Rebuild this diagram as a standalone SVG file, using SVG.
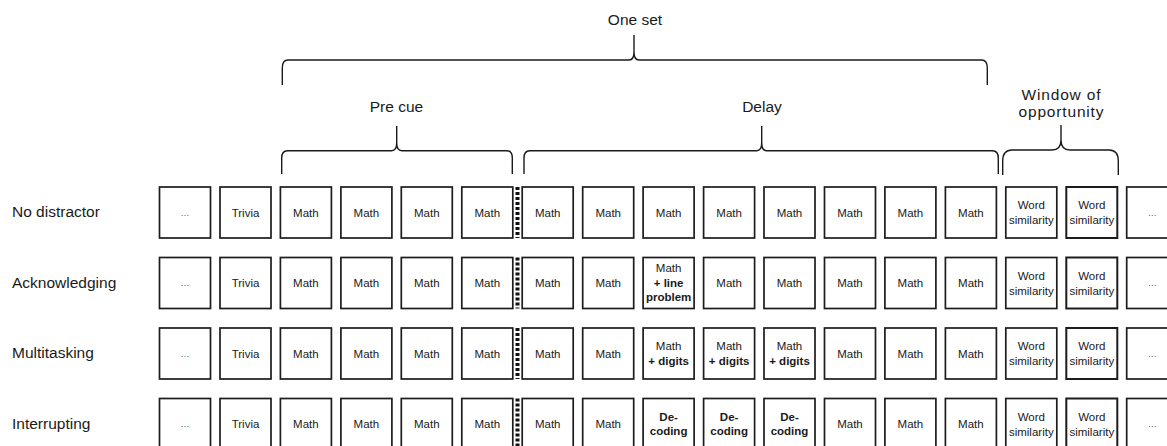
<svg xmlns="http://www.w3.org/2000/svg" width="1167" height="446" viewBox="0 0 1167 446">
<style>
.box{fill:#fff;stroke:#1c1c1c;stroke-width:1.7}
.box2{fill:#fff;stroke:#1c1c1c;stroke-width:2}
.t{font-family:"Liberation Sans",Arial,sans-serif;font-size:11.5px;fill:#1a1a1a;text-anchor:middle}
.b{font-family:"Liberation Sans",Arial,sans-serif;font-size:11.5px;font-weight:bold;fill:#1a1a1a;text-anchor:middle}
.e{font-family:"Liberation Sans",Arial,sans-serif;font-size:9px;fill:#555;text-anchor:middle}
.lbl{font-family:"Liberation Sans",Arial,sans-serif;font-size:15.5px;fill:#1a1a1a}
.hd{font-family:"Liberation Sans",Arial,sans-serif;font-size:15.5px;fill:#1a1a1a;text-anchor:middle}
.br{fill:none;stroke:#1a1a1a;stroke-width:1.4}
.dot{stroke:#111;stroke-width:4;stroke-dasharray:3 2}
</style>
<rect width="1167" height="446" fill="#fff"/>
<g id="headings">
<text class="hd" x="635" y="25">One set</text>
<text class="hd" x="396.5" y="112.3">Pre cue</text>
<text class="hd" x="762" y="112.3">Delay</text>
<text class="hd" x="1061" y="99.5" font-size="16.5" textLength="79" lengthAdjust="spacing">Window of</text>
<text class="hd" x="1061" y="117.3" font-size="16.5" textLength="85" lengthAdjust="spacing">opportunity</text>
</g>
<g id="brackets">
<path class="br" d="M282.3,85 V68 Q282.3,60 288,60 H629 Q634,60 634,52 V35 V52 Q634,60 639,60 H981.5 Q987.3,60 987.3,68 V85"/>
<path class="br" d="M281.7,174 V158 Q281.7,150.7 287.5,150.7 H391.7 Q396.7,150.7 396.7,143 V126 V143 Q396.7,150.7 401.7,150.7 H506.5 Q512.3,150.7 512.3,158 V174"/>
<path class="br" d="M524,174 V158 Q524,150.7 529.8,150.7 H756.7 Q761.7,150.7 761.7,143 V126 V143 Q761.7,150.7 766.7,150.7 H992.5 Q998.3,150.7 998.3,158 V174"/>
<path class="br" d="M1002.7,175 V161 Q1002.7,150 1012,150 H1052 Q1061,150 1061,140 V125 V140 Q1061,150 1070,150 H1109 Q1118.3,150 1118.3,161 V175"/>
</g>
<g id="row-labels">
<text class="lbl" x="12" y="217">No distractor</text>
<text class="lbl" x="12" y="287.5">Acknowledging</text>
<text class="lbl" x="12" y="358">Multitasking</text>
<text class="lbl" x="12" y="428.5">Interrupting</text>
</g>
<g id="separators">
<line class="dot" x1="517.5" y1="187" x2="517.5" y2="238"/>
<line class="dot" x1="517.5" y1="257.5" x2="517.5" y2="308.5"/>
<line class="dot" x1="517.5" y1="328" x2="517.5" y2="379"/>
<line class="dot" x1="517.5" y1="398.5" x2="517.5" y2="449.5"/>
</g>
<g id="connectors"></g>

<!-- Row 1 -->
<g id="r1c0"><rect class="box" x="159.5" y="187" width="51" height="51"/><text class="e" x="185" y="215.5">…</text></g>
<g id="r1c1"><rect class="box" x="220" y="187" width="51" height="51"/><text class="t" x="245.5" y="216.5">Trivia</text></g>
<g id="r1c2"><rect class="box" x="280.4" y="187" width="51" height="51"/><text class="t" x="305.9" y="216.5">Math</text></g>
<g id="r1c3"><rect class="box" x="340.9" y="187" width="51" height="51"/><text class="t" x="366.4" y="216.5">Math</text></g>
<g id="r1c4"><rect class="box" x="401.3" y="187" width="51" height="51"/><text class="t" x="426.8" y="216.5">Math</text></g>
<g id="r1c5"><rect class="box" x="461.8" y="187" width="51" height="51"/><text class="t" x="487.3" y="216.5">Math</text></g>
<g id="r1c6"><rect class="box" x="522.2" y="187" width="51" height="51"/><text class="t" x="547.7" y="216.5">Math</text></g>
<g id="r1c7"><rect class="box" x="582.7" y="187" width="51" height="51"/><text class="t" x="608.2" y="216.5">Math</text></g>
<g id="r1c8"><rect class="box" x="643.1" y="187" width="51" height="51"/><text class="t" x="668.6" y="216.5">Math</text></g>
<g id="r1c9"><rect class="box" x="703.6" y="187" width="51" height="51"/><text class="t" x="729.1" y="216.5">Math</text></g>
<g id="r1c10"><rect class="box" x="764" y="187" width="51" height="51"/><text class="t" x="789.5" y="216.5">Math</text></g>
<g id="r1c11"><rect class="box" x="824.5" y="187" width="51" height="51"/><text class="t" x="850" y="216.5">Math</text></g>
<g id="r1c12"><rect class="box" x="884.9" y="187" width="51" height="51"/><text class="t" x="910.4" y="216.5">Math</text></g>
<g id="r1c13"><rect class="box" x="945.4" y="187" width="51" height="51"/><text class="t" x="970.9" y="216.5">Math</text></g>
<g id="r1c14"><rect class="box" x="1005.8" y="187" width="51" height="51"/><text class="t" x="1031.3" y="209">Word</text><text class="t" x="1031.3" y="224">similarity</text></g>
<g id="r1c15"><rect class="box2" x="1066.3" y="187" width="51" height="51"/><text class="t" x="1091.8" y="209">Word</text><text class="t" x="1091.8" y="224">similarity</text></g>
<g id="r1c16"><rect class="box" x="1126.7" y="187" width="51" height="51"/><text class="e" x="1152.2" y="215.5">…</text></g>

<!-- Row 2 -->
<g id="r2c0"><rect class="box" x="159.5" y="257.5" width="51" height="51"/><text class="e" x="185" y="286">…</text></g>
<g id="r2c1"><rect class="box" x="220" y="257.5" width="51" height="51"/><text class="t" x="245.5" y="287">Trivia</text></g>
<g id="r2c2"><rect class="box" x="280.4" y="257.5" width="51" height="51"/><text class="t" x="305.9" y="287">Math</text></g>
<g id="r2c3"><rect class="box" x="340.9" y="257.5" width="51" height="51"/><text class="t" x="366.4" y="287">Math</text></g>
<g id="r2c4"><rect class="box" x="401.3" y="257.5" width="51" height="51"/><text class="t" x="426.8" y="287">Math</text></g>
<g id="r2c5"><rect class="box" x="461.8" y="257.5" width="51" height="51"/><text class="t" x="487.3" y="287">Math</text></g>
<g id="r2c6"><rect class="box" x="522.2" y="257.5" width="51" height="51"/><text class="t" x="547.7" y="287">Math</text></g>
<g id="r2c7"><rect class="box" x="582.7" y="257.5" width="51" height="51"/><text class="t" x="608.2" y="287">Math</text></g>
<g id="r2c8"><rect class="box" x="643.1" y="257.5" width="51" height="51"/><text class="t" x="668.6" y="272">Math</text><text class="b" x="668.6" y="286.5">+ line</text><text class="b" x="668.6" y="301">problem</text></g>
<g id="r2c9"><rect class="box" x="703.6" y="257.5" width="51" height="51"/><text class="t" x="729.1" y="287">Math</text></g>
<g id="r2c10"><rect class="box" x="764" y="257.5" width="51" height="51"/><text class="t" x="789.5" y="287">Math</text></g>
<g id="r2c11"><rect class="box" x="824.5" y="257.5" width="51" height="51"/><text class="t" x="850" y="287">Math</text></g>
<g id="r2c12"><rect class="box" x="884.9" y="257.5" width="51" height="51"/><text class="t" x="910.4" y="287">Math</text></g>
<g id="r2c13"><rect class="box" x="945.4" y="257.5" width="51" height="51"/><text class="t" x="970.9" y="287">Math</text></g>
<g id="r2c14"><rect class="box" x="1005.8" y="257.5" width="51" height="51"/><text class="t" x="1031.3" y="279.5">Word</text><text class="t" x="1031.3" y="294.5">similarity</text></g>
<g id="r2c15"><rect class="box2" x="1066.3" y="257.5" width="51" height="51"/><text class="t" x="1091.8" y="279.5">Word</text><text class="t" x="1091.8" y="294.5">similarity</text></g>
<g id="r2c16"><rect class="box" x="1126.7" y="257.5" width="51" height="51"/><text class="e" x="1152.2" y="286">…</text></g>

<!-- Row 3 -->
<g id="r3c0"><rect class="box" x="159.5" y="328" width="51" height="51"/><text class="e" x="185" y="356.5">…</text></g>
<g id="r3c1"><rect class="box" x="220" y="328" width="51" height="51"/><text class="t" x="245.5" y="357.5">Trivia</text></g>
<g id="r3c2"><rect class="box" x="280.4" y="328" width="51" height="51"/><text class="t" x="305.9" y="357.5">Math</text></g>
<g id="r3c3"><rect class="box" x="340.9" y="328" width="51" height="51"/><text class="t" x="366.4" y="357.5">Math</text></g>
<g id="r3c4"><rect class="box" x="401.3" y="328" width="51" height="51"/><text class="t" x="426.8" y="357.5">Math</text></g>
<g id="r3c5"><rect class="box" x="461.8" y="328" width="51" height="51"/><text class="t" x="487.3" y="357.5">Math</text></g>
<g id="r3c6"><rect class="box" x="522.2" y="328" width="51" height="51"/><text class="t" x="547.7" y="357.5">Math</text></g>
<g id="r3c7"><rect class="box" x="582.7" y="328" width="51" height="51"/><text class="t" x="608.2" y="357.5">Math</text></g>
<g id="r3c8"><rect class="box" x="643.1" y="328" width="51" height="51"/><text class="t" x="668.6" y="349.5">Math</text><text class="b" x="668.6" y="364.5">+ digits</text></g>
<g id="r3c9"><rect class="box" x="703.6" y="328" width="51" height="51"/><text class="t" x="729.1" y="349.5">Math</text><text class="b" x="729.1" y="364.5">+ digits</text></g>
<g id="r3c10"><rect class="box" x="764" y="328" width="51" height="51"/><text class="t" x="789.5" y="349.5">Math</text><text class="b" x="789.5" y="364.5">+ digits</text></g>
<g id="r3c11"><rect class="box" x="824.5" y="328" width="51" height="51"/><text class="t" x="850" y="357.5">Math</text></g>
<g id="r3c12"><rect class="box" x="884.9" y="328" width="51" height="51"/><text class="t" x="910.4" y="357.5">Math</text></g>
<g id="r3c13"><rect class="box" x="945.4" y="328" width="51" height="51"/><text class="t" x="970.9" y="357.5">Math</text></g>
<g id="r3c14"><rect class="box" x="1005.8" y="328" width="51" height="51"/><text class="t" x="1031.3" y="350">Word</text><text class="t" x="1031.3" y="365">similarity</text></g>
<g id="r3c15"><rect class="box2" x="1066.3" y="328" width="51" height="51"/><text class="t" x="1091.8" y="350">Word</text><text class="t" x="1091.8" y="365">similarity</text></g>
<g id="r3c16"><rect class="box" x="1126.7" y="328" width="51" height="51"/><text class="e" x="1152.2" y="356.5">…</text></g>

<!-- Row 4 -->
<g id="r4c0"><rect class="box" x="159.5" y="398.5" width="51" height="51"/><text class="e" x="185" y="427">…</text></g>
<g id="r4c1"><rect class="box" x="220" y="398.5" width="51" height="51"/><text class="t" x="245.5" y="428">Trivia</text></g>
<g id="r4c2"><rect class="box" x="280.4" y="398.5" width="51" height="51"/><text class="t" x="305.9" y="428">Math</text></g>
<g id="r4c3"><rect class="box" x="340.9" y="398.5" width="51" height="51"/><text class="t" x="366.4" y="428">Math</text></g>
<g id="r4c4"><rect class="box" x="401.3" y="398.5" width="51" height="51"/><text class="t" x="426.8" y="428">Math</text></g>
<g id="r4c5"><rect class="box" x="461.8" y="398.5" width="51" height="51"/><text class="t" x="487.3" y="428">Math</text></g>
<g id="r4c6"><rect class="box" x="522.2" y="398.5" width="51" height="51"/><text class="t" x="547.7" y="428">Math</text></g>
<g id="r4c7"><rect class="box" x="582.7" y="398.5" width="51" height="51"/><text class="t" x="608.2" y="428">Math</text></g>
<g id="r4c8"><rect class="box" x="643.1" y="398.5" width="51" height="51"/><text class="b" x="668.6" y="420.5">De-</text><text class="b" x="668.6" y="435">coding</text></g>
<g id="r4c9"><rect class="box" x="703.6" y="398.5" width="51" height="51"/><text class="b" x="729.1" y="420.5">De-</text><text class="b" x="729.1" y="435">coding</text></g>
<g id="r4c10"><rect class="box" x="764" y="398.5" width="51" height="51"/><text class="b" x="789.5" y="420.5">De-</text><text class="b" x="789.5" y="435">coding</text></g>
<g id="r4c11"><rect class="box" x="824.5" y="398.5" width="51" height="51"/><text class="t" x="850" y="428">Math</text></g>
<g id="r4c12"><rect class="box" x="884.9" y="398.5" width="51" height="51"/><text class="t" x="910.4" y="428">Math</text></g>
<g id="r4c13"><rect class="box" x="945.4" y="398.5" width="51" height="51"/><text class="t" x="970.9" y="428">Math</text></g>
<g id="r4c14"><rect class="box" x="1005.8" y="398.5" width="51" height="51"/><text class="t" x="1031.3" y="420.5">Word</text><text class="t" x="1031.3" y="435.5">similarity</text></g>
<g id="r4c15"><rect class="box2" x="1066.3" y="398.5" width="51" height="51"/><text class="t" x="1091.8" y="420.5">Word</text><text class="t" x="1091.8" y="435.5">similarity</text></g>
<g id="r4c16"><rect class="box" x="1126.7" y="398.5" width="51" height="51"/><text class="e" x="1152.2" y="427">…</text></g>
</svg>
